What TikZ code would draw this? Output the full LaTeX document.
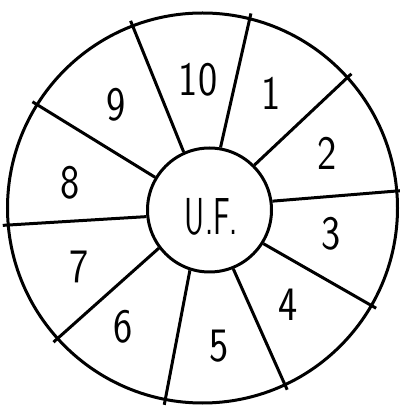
\documentclass[tikz,border=0pt]{standalone}
\usepackage{tikz}
\usetikzlibrary{positioning}

\begin{document}
\begin{tikzpicture}[
  x=1pt,y=1pt,
  line width=3pt,
  rim/.style={draw,circle,inner sep=0pt,minimum size=390pt},
  hub/.style={draw,circle,inner sep=0pt,minimum size=124pt},
  hubtext/.style={font=\sffamily\fontsize{52}{52}\selectfont,xscale=0.6},
  digit/.style={font=\sffamily\fontsize{48}{48}\selectfont,xscale=0.85},
  spoke/.style={shorten >=-4pt}
]
  \useasboundingbox (0,0) rectangle (399,407);

  \node[rim] (rim) at (202.5,199) {};
  \node[hub] (uf) at (209.5,197) {};
  \node[hubtext] (uftext) at (211.5,190.5) {U.F.};

  % spokes: angle on the hub / angle on the rim
  \foreach \a/\b in {80.5/76.2, 45.3/42, 8.1/5.6, -32.2/-30.5, -68/-65.8,
      -108.3/-101.6, -143/-138.3, -174.7/-175, 149/148.4, 114.6/111.6}
    \draw[spoke] (uf.\a) -- (rim.\b);

  \node[digit] (n1) at (271,314) {1};
  \node[digit] (n2) at (327,254) {2};
  \node[digit] (n3) at (331,173) {3};
  \node[digit] (n4) at (288,102) {4};
  \node[digit] (n5) at (219,61) {5};
  \node[digit] (n6) at (123,80) {6};
  \node[digit] (n7) at (79,140) {7};
  \node[digit] (n8) at (70,224) {8};
  \node[digit] (n9) at (116,302) {9};
  \node[digit] (n10) at (198,327) {10};
\end{tikzpicture}
\end{document}
